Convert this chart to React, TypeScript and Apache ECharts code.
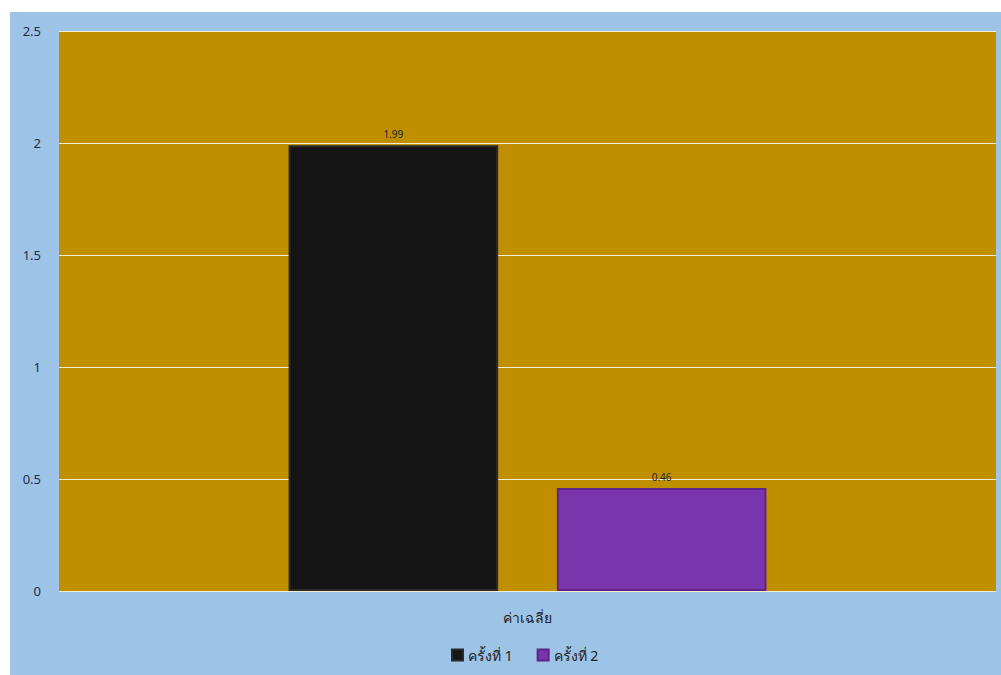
import React, { useEffect, useRef } from "react";
import * as echarts from "echarts";

const categories = ["ค่าเฉลี่ย"];
const seriesNames = ["ครั้งที่ 1", "ครั้งที่ 2"];
const values1 = [1.99];
const values2 = [0.46];
const colors = ["#151515", "#7A35AC"];

export default function App() {
  const ref = useRef<HTMLDivElement>(null);
  useEffect(() => {
    if (!ref.current) return;
    const chart = echarts.init(ref.current, null, { renderer: "svg" });
    const mkSeries = (name: string, data: number[], color: string, border: string) => ({
      name,
      type: "bar",
      data,
      barGap: "28%",
      barCategoryGap: "49%",
      itemStyle: { color, borderColor: border, borderWidth: 2 },
      label: {
        show: true,
        position: "top",
        distance: 6,
        fontSize: 10,
        color: "#222222",
        fontFamily: "Noto Sans",
        formatter: (p: any) => p.value.toFixed(2),
      },
    });
    chart.setOption({
      animation: false,
      backgroundColor: "#ffffff",
      textStyle: { fontFamily: "Noto Sans" },
      graphic: [
        {
          type: "rect",
          shape: { x: 10, y: 12, width: 991, height: 663 },
          style: { fill: "#9DC3E6" },
          z: -10,
          silent: true,
        },
      ],
      grid: {
        left: 59,
        top: 31,
        width: 937,
        height: 560,
        show: true,
        backgroundColor: "#BF8F00",
        borderWidth: 0,
      },
      legend: {
        bottom: 8,
        left: 446,
        itemWidth: 11,
        itemHeight: 11,
        itemGap: 24,
        icon: "rect",
        textStyle: { fontSize: 14, color: "#222222", fontFamily: "Noto Sans" },
        data: seriesNames,
      },
      xAxis: {
        type: "category",
        data: categories,
        axisLine: { show: false },
        axisTick: { show: false },
        axisLabel: { fontSize: 14, color: "#222222", margin: 19 },
      },
      yAxis: {
        type: "value",
        min: 0,
        max: 2.5,
        interval: 0.5,
        axisLine: { show: false },
        axisTick: { show: false },
        axisLabel: { fontSize: 13, color: "#1F2D4A", margin: 18 },
        splitLine: { lineStyle: { color: "#F4EFCF", width: 1 } },
      },
      series: [
        mkSeries(seriesNames[0], values1, colors[0], "#2a2a2a"),
        mkSeries(seriesNames[1], values2, colors[1], "#5E2488"),
      ],
    });
    return () => chart.dispose();
  }, []);
  return (
    <div
      ref={ref}
      style={{ position: "fixed", left: 0, top: 0, width: 1001, height: 675 }}
    />
  );
}
